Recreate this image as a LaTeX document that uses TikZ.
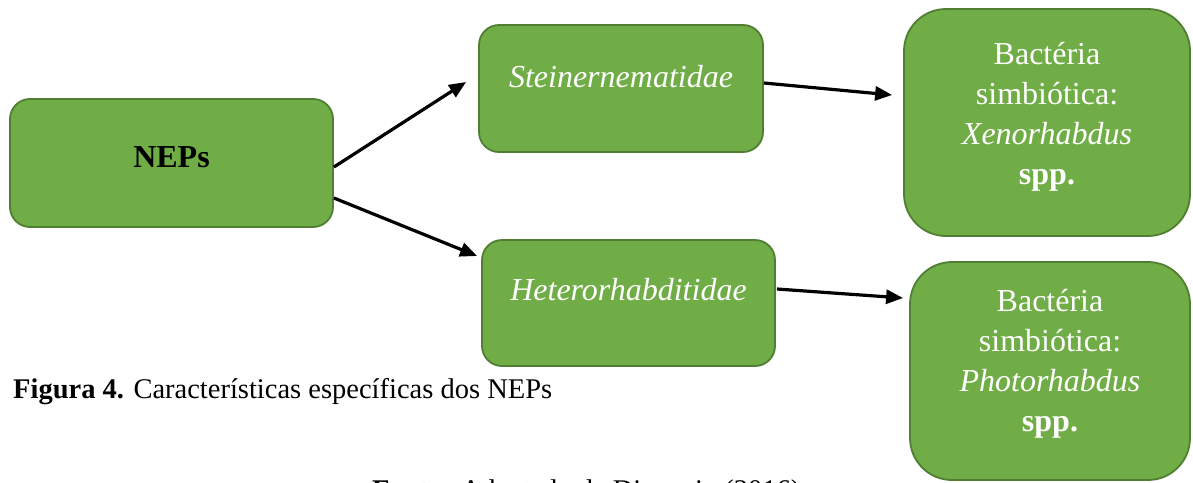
\documentclass[tikz,border=0pt]{standalone}
\usepackage{fontspec}
\setmainfont{Liberation Serif}
\usetikzlibrary{arrows.meta,calc}
\definecolor{boxfill}{HTML}{70AD47}
\definecolor{boxline}{HTML}{507E32}
\tikzset{
  gbox/.style={draw=boxline, fill=boxfill, line width=1.8pt, rounded corners=#1,
    text=white, align=center, inner sep=0pt, font=\fontsize{32}{40}\selectfont},
  gbox/.default=20pt,
  conn/.style={line width=3.2pt, -{Triangle[length=17pt,width=14pt]}},
  capt/.style={anchor=base west, inner sep=0pt, font=\fontsize{28.5}{32}\selectfont}
}
\begin{document}
\begin{tikzpicture}[x=1pt,y=-1pt]
\clip (0,0) rectangle (1193,482);
\useasboundingbox (0,0) rectangle (1193,482);
\node[gbox, text=black, minimum width=323pt, minimum height=128pt, text depth=12pt] (nep) at (171.5,163) {\textbf{NEPs}};
\node[gbox, minimum width=284pt, minimum height=127pt, text depth=24pt] (st) at (621,88.5) {\textit{Steinernematidae}};
\node[gbox, minimum width=293pt, minimum height=126pt, text depth=28pt] (he) at (628.5,303) {\textit{Heterorhabditidae}};
\node[gbox=42pt, minimum width=286pt, minimum height=227pt, text depth=18pt] (xe) at (1047,122.5) {Bactéria\\simbiótica:\\\textit{Xenorhabdus}\\\textbf{spp.}};
\node[gbox=42pt, minimum width=280pt, minimum height=218pt, text depth=22pt] (ph) at (1050,371) {Bactéria\\simbiótica:\\\textit{Photorhabdus}\\\textbf{spp.}};
\draw[conn] ($(nep.east)+(0,4)$) -- ($(st.west)+(-12,-6.5)$);
\draw[conn] ($(nep.east)+(0,35)$) -- ($(he.west)+(-4,-47)$);
\draw[conn] ($(st.east)+(0,-5.5)$) -- ($(xe.west)+(-11,-27.5)$);
\draw[conn] ($(he.east)+(1,-14)$) -- ($(ph.west)+(-6,-73)$);
\node[capt] (cap) at (13,398) {\textbf{Figura 4.} Características específicas dos NEPs};
\node[capt] (src) at (372,499) {\textbf{Fonte:} Adaptado de Dionysio (2016)};
\end{tikzpicture}
\end{document}
